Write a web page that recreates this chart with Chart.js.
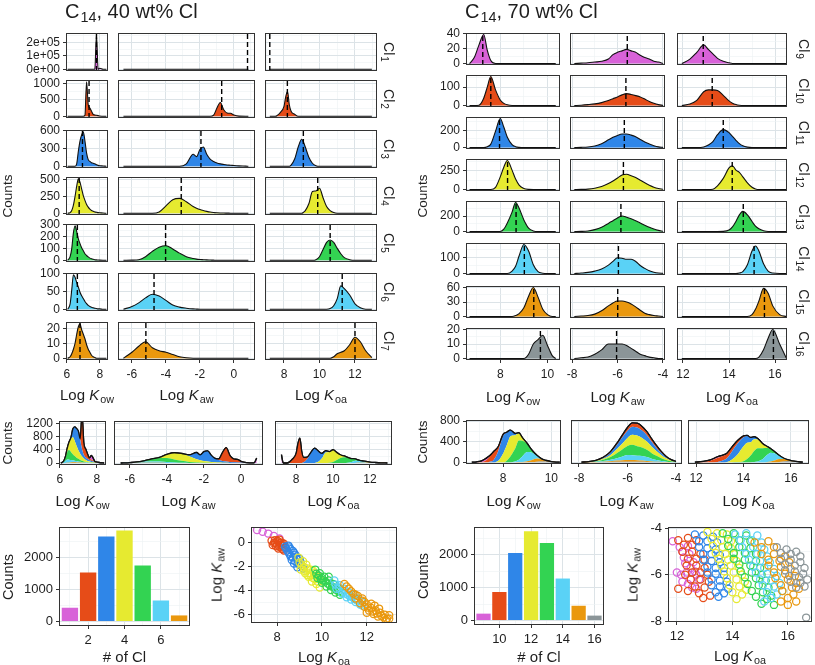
<!DOCTYPE html>
<html>
<head>
<meta charset="utf-8">
<script src="https://cdn.jsdelivr.net/npm/chart.js@4.4.1/dist/chart.umd.min.js"></script>
<style>
  body { margin: 0; background: #fff; }
  #fig { position: relative; width: 815px; height: 665px; overflow: hidden;
         font-family: "Liberation Sans", Arial, sans-serif; color: #1e1e1e; }
  #fig canvas { position: absolute; }
  .t { position: absolute; white-space: nowrap; line-height: 1; }
  .t sub { font-size: 72%; vertical-align: -0.3em; line-height: 0; margin-left: 1px; }
</style>
</head>
<body>
<div id="fig"></div>
<script>
// ---------- data ----------
const cl40 = [1, 2, 3, 4, 5, 6, 7];
const cl70 = [9, 10, 11, 12, 13, 14, 15, 16];
const clColors = ['#D862D8', '#E64C18', '#2F86E8', '#E6EA30', '#33D352', '#5AD2F6', '#EA980E', '#8B9598'];

// 40 wt% Cl, counts per Cl on a shared bin grid
const kow40X = [6.05, 6.2, 6.3, 6.4, 6.5, 6.6, 6.7, 6.8, 6.9, 7.0, 7.1, 7.2, 7.3, 7.4, 7.5, 7.6, 7.7, 7.8, 7.9, 8.0, 8.2, 8.4];
const kow40 = [
  [0, 0, 0, 0, 0, 0, 0, 0, 0, 0, 0, 0, 0, 0, 0, 0, 120, 80, 0, 0, 0, 0],
  [0, 0, 0, 0, 0, 0, 0, 0, 0, 0, 30, 1050, 350, 250, 150, 60, 40, 30, 20, 10, 0, 0],
  [0, 0, 0, 0, 0, 40, 250, 420, 520, 575, 420, 220, 110, 80, 60, 50, 40, 25, 15, 10, 5, 0],
  [0, 10, 40, 120, 250, 400, 510, 460, 360, 260, 190, 130, 90, 60, 40, 30, 20, 15, 10, 8, 3, 0],
  [0, 30, 100, 230, 290, 240, 180, 140, 105, 80, 55, 40, 28, 18, 12, 8, 5, 3, 2, 1, 0, 0],
  [0, 15, 55, 97, 90, 75, 62, 48, 38, 30, 22, 16, 11, 8, 6, 4, 3, 2, 1, 1, 0, 0],
  [0, 1, 3, 6, 10, 16, 21, 23, 19, 16, 13, 9, 6, 4, 2, 1, 0.5, 0, 0, 0, 0, 0]
];
const kow40Spike = [0, 0, 0, 0, 0, 0, 0, 0, 0, 0, 0, 0, 0, 0, 0, 0, 0, 256000, 0, 8000, 0, 0];

const kaw40X = [-6.5, -6.0, -5.6, -5.2, -4.8, -4.4, -4.0, -3.6, -3.2, -2.8, -2.4, -2.2, -2.0, -1.8, -1.6, -1.4, -1.2, -1.0, -0.8, -0.6, -0.4, -0.2, 0.0, 0.3, 0.7, 0.85];
const kaw40 = [
  [0, 0, 0, 0, 0, 0, 0, 0, 0, 0, 0, 0, 0, 0, 0, 0, 0, 0, 0, 0, 0, 0, 0, 0, 0, 150],
  [0, 0, 0, 0, 0, 0, 0, 0, 0, 0, 0, 0, 0, 0, 0, 0, 30, 250, 420, 200, 100, 90, 40, 5, 0, 0],
  [0, 0, 0, 0, 0, 0, 0, 0, 0, 40, 200, 160, 280, 320, 200, 120, 80, 55, 40, 30, 22, 18, 12, 6, 2, 0],
  [0, 0, 0, 0, 0, 20, 110, 200, 220, 170, 100, 75, 55, 40, 28, 18, 12, 8, 5, 3, 2, 1, 0, 0, 0, 0],
  [0, 1, 5, 30, 75, 110, 122, 95, 60, 30, 15, 10, 7, 5, 3, 2, 1, 0, 0, 0, 0, 0, 0, 0, 0, 0],
  [0, 8, 18, 32, 42, 37, 25, 12, 6, 3, 1, 0.5, 0, 0, 0, 0, 0, 0, 0, 0, 0, 0, 0, 0, 0, 0],
  [0, 4, 8, 11, 7, 5, 4, 2.5, 1, 0.3, 0, 0, 0, 0, 0, 0, 0, 0, 0, 0, 0, 0, 0, 0, 0, 0]
];

const koa40X = [7.2, 7.3, 7.5, 7.8, 8.0, 8.1, 8.2, 8.3, 8.4, 8.6, 8.8, 9.0, 9.1, 9.2, 9.4, 9.6, 9.8, 10.0, 10.2, 10.4, 10.6, 10.8, 11.0, 11.2, 11.4, 11.7, 12.0, 12.3, 12.6, 12.95];
const koa40 = [
  [250, 0, 0, 0, 0, 0, 0, 0, 0, 0, 0, 0, 0, 0, 0, 0, 0, 0, 0, 0, 0, 0, 0, 0, 0, 0, 0, 0, 0, 0],
  [0, 0, 0, 120, 300, 600, 750, 350, 150, 60, 0, 0, 0, 0, 0, 0, 0, 0, 0, 0, 0, 0, 0, 0, 0, 0, 0, 0, 0, 0],
  [0, 0, 0, 0, 0, 0, 0, 0, 20, 120, 320, 450, 400, 320, 150, 50, 10, 0, 0, 0, 0, 0, 0, 0, 0, 0, 0, 0, 0, 0],
  [0, 0, 0, 0, 0, 0, 0, 0, 0, 0, 0, 0, 15, 40, 140, 320, 330, 370, 230, 100, 40, 10, 0, 0, 0, 0, 0, 0, 0, 0],
  [0, 0, 0, 0, 0, 0, 0, 0, 0, 0, 0, 0, 0, 0, 0, 0, 5, 30, 90, 150, 170, 150, 100, 55, 22, 5, 0, 0, 0, 0],
  [0, 0, 0, 0, 0, 0, 0, 0, 0, 0, 0, 0, 0, 0, 0, 0, 0, 0, 0, 0, 2, 10, 30, 66, 58, 40, 15, 4, 0, 0],
  [0, 0, 0, 0, 0, 0, 0, 0, 0, 0, 0, 0, 0, 0, 0, 0, 0, 0, 0, 0, 0, 1, 3, 4, 5, 9, 14, 11, 5, 0.5]
];

const kow40Mean = [7.8, 7.35, 6.95, 6.75, 6.64, 6.64, 6.8];
const kaw40Mean = [0.8, -0.72, -1.94, -3.1, -4.02, -4.7, -5.18];
const koa40Mean = [7.2, 8.19, 9.09, 9.9, 10.6, 11.28, 12.0];

// 70 wt% Cl
const kow70X = [6.7, 6.9, 7.1, 7.3, 7.45, 7.6, 7.8, 8.0, 8.15, 8.3, 8.5, 8.65, 8.8, 9.0, 9.2, 9.4, 9.6, 9.8, 10.0, 10.2, 10.35];
const kow70 = [
  [0, 8, 25, 39, 18, 4, 0, 0, 0, 0, 0, 0, 0, 0, 0, 0, 0, 0, 0, 0, 0],
  [0, 0, 2, 40, 100, 158, 85, 30, 12, 4, 0, 0, 0, 0, 0, 0, 0, 0, 0, 0, 0],
  [0, 0, 0, 0, 10, 40, 190, 340, 240, 120, 35, 10, 2, 0, 0, 0, 0, 0, 0, 0, 0],
  [0, 0, 0, 0, 0, 0, 30, 170, 300, 390, 260, 140, 60, 15, 2, 0, 0, 0, 0, 0, 0],
  [0, 0, 0, 0, 0, 0, 0, 0, 30, 110, 250, 375, 300, 150, 45, 8, 0, 0, 0, 0, 0],
  [0, 0, 0, 0, 0, 0, 0, 0, 0, 0, 15, 45, 110, 180, 140, 55, 12, 2, 0, 0, 0],
  [0, 0, 0, 0, 0, 0, 0, 0, 0, 0, 0, 2, 6, 18, 42, 60, 40, 15, 4, 0, 0],
  [0, 0, 0, 0, 0, 0, 0, 0, 0, 0, 0, 0, 0, 0, 3, 10, 13, 16, 9, 2, 0]
];

const kaw70X = [-7.9, -7.6, -7.3, -7.0, -6.7, -6.4, -6.2, -6.0, -5.8, -5.6, -5.4, -5.2, -5.0, -4.8, -4.6, -4.4, -4.2, -4.0];
const kaw70 = [
  [0, 0.5, 1, 2, 3, 6, 12, 15, 17, 19, 17, 15, 11, 8, 6, 3, 2, 0],
  [0, 2, 5, 9, 16, 27, 37, 47, 58, 65, 60, 54, 47, 35, 22, 12, 5, 1],
  [0, 2, 6, 18, 45, 90, 120, 142, 158, 158, 145, 125, 95, 65, 42, 22, 8, 2],
  [0, 2, 6, 18, 40, 80, 115, 155, 195, 205, 185, 160, 125, 90, 58, 32, 15, 5],
  [0, 2, 8, 25, 55, 105, 140, 175, 200, 185, 165, 140, 110, 82, 55, 32, 15, 4],
  [0, 3, 7, 15, 28, 52, 75, 98, 95, 88, 88, 75, 50, 32, 17, 8, 3, 1],
  [0, 1, 2, 5, 12, 22, 28, 32, 32, 30, 26, 20, 13, 7, 4, 2, 1, 0],
  [0, 0.5, 1, 3, 6, 10, 10, 10, 10, 9, 7, 5, 3, 2, 1, 0.5, 0, 0]
];

const koa70X = [11.95, 12.3, 12.6, 12.9, 13.1, 13.3, 13.5, 13.75, 14.0, 14.15, 14.3, 14.45, 14.6, 14.8, 15.0, 15.15, 15.3, 15.5, 15.7, 15.9, 16.2, 16.5];
const koa70 = [
  [0, 6, 15, 25, 19, 13, 7, 3, 1, 0, 0, 0, 0, 0, 0, 0, 0, 0, 0, 0, 0, 0],
  [0, 8, 28, 75, 85, 85, 82, 55, 25, 13, 6, 2, 0, 0, 0, 0, 0, 0, 0, 0, 0, 0],
  [0, 0, 0, 6, 30, 70, 150, 210, 175, 130, 85, 45, 20, 5, 0, 0, 0, 0, 0, 0, 0, 0],
  [0, 0, 0, 0, 0, 5, 50, 150, 290, 320, 260, 230, 170, 90, 30, 8, 0, 0, 0, 0, 0, 0],
  [0, 0, 0, 0, 0, 0, 0, 2, 20, 60, 130, 215, 260, 215, 130, 70, 35, 10, 0, 0, 0, 0],
  [0, 0, 0, 0, 0, 0, 0, 0, 0, 0, 0, 3, 12, 55, 140, 170, 140, 60, 15, 3, 0, 0],
  [0, 0, 0, 0, 0, 0, 0, 0, 0, 0, 0, 0, 0, 0, 4, 15, 32, 58, 48, 22, 4, 0],
  [0, 0, 0, 0, 0, 0, 0, 0, 0, 0, 0, 0, 0, 0, 0, 0, 1, 6, 14, 20, 10, 0]
];

const kow70Mean = [7.26, 7.6, 7.97, 8.31, 8.67, 9.02, 9.42, 9.7];
const kaw70Mean = [-5.57, -5.63, -5.7, -5.74, -5.85, -5.96, -5.99, -6.04];
const koa70Mean = [12.88, 13.27, 13.75, 14.14, 14.62, 15.09, 15.54, 15.93];

// counts per number of Cl
const count40 = [430, 1530, 2656, 2844, 1750, 656, 190];
const count70 = [210, 870, 2060, 2720, 2360, 1280, 450, 150];

// Log Koa, Log Kaw pairs per Cl
const scat40 = [
  [[7.1, 1.0], [7.35, 0.85], [7.6, 0.7], [7.85, 0.5], [8.1, 0.3]],
  [[7.75, 0.1], [7.85, -0.1], [7.9, 0.15], [8.0, -0.2], [8.05, 0.05], [8.1, -0.4], [8.15, -0.1], [8.2, -0.55], [8.25, -0.3], [8.3, -0.7], [7.95, -0.35], [8.1, 0.2], [8.35, -0.5], [8.2, -0.05],
   [7.8, -0.25], [8.0, 0.1], [8.15, -0.25], [8.3, -0.15], [8.05, -0.55], [8.25, -0.6], [7.9, -0.05]],
  [[8.35, -0.4], [8.45, -0.7], [8.5, -0.3], [8.55, -1.0], [8.6, -0.6], [8.7, -1.3], [8.75, -0.9], [8.8, -1.6], [8.85, -1.2], [8.95, -1.8], [9.0, -1.4], [9.1, -2.0], [8.65, -1.5], [9.05, -1.7], [8.9, -2.1],
   [8.4, -0.55], [8.5, -0.85], [8.6, -1.2], [8.7, -0.75], [8.8, -1.05], [8.9, -1.45], [9.0, -1.9], [9.15, -2.2], [8.75, -1.8], [8.55, -0.45]],
  [[8.95, -1.3], [9.05, -2.3], [9.15, -1.6], [9.25, -2.6], [9.3, -1.9], [9.4, -2.9], [9.5, -2.3], [9.55, -3.3], [9.65, -2.6], [9.75, -3.5], [9.85, -2.9], [9.9, -3.8], [9.2, -2.1], [9.6, -3.0], [9.45, -2.6],
   [9.0, -1.7], [9.1, -1.95], [9.2, -2.4], [9.35, -2.2], [9.35, -2.75], [9.5, -2.8], [9.6, -2.4], [9.7, -3.1], [9.8, -3.3], [9.9, -3.1], [9.75, -2.8]],
  [[9.7, -2.3], [9.8, -3.0], [9.9, -2.6], [10.0, -3.4], [10.1, -2.9], [10.2, -3.7], [10.3, -3.2], [10.4, -4.0], [10.5, -3.5], [10.6, -4.2], [10.7, -3.8], [10.8, -4.4], [10.15, -3.3], [10.45, -3.7], [9.95, -3.1],
   [9.75, -2.65], [9.85, -2.8], [10.0, -3.0], [10.05, -3.2], [10.25, -3.45], [10.35, -3.6], [10.55, -3.8], [10.65, -4.0], [10.75, -4.1], [10.9, -4.2], [10.3, -2.9]],
  [[10.55, -3.2], [10.65, -3.9], [10.8, -3.6], [10.9, -4.3], [11.0, -3.9], [11.1, -4.6], [11.2, -4.2], [11.3, -4.8], [11.4, -4.4], [11.5, -5.0], [11.6, -4.7], [11.7, -5.2], [11.05, -4.3], [11.35, -4.6],
   [10.6, -3.55], [10.75, -3.8], [10.95, -4.05], [11.15, -4.4], [11.25, -4.5], [11.45, -4.75], [11.55, -4.85], [11.75, -4.95], [11.8, -5.3]],
  [[11.0, -3.5], [11.2, -3.9], [11.4, -4.3], [11.6, -4.5], [11.8, -4.9], [11.9, -5.4], [12.0, -5.2], [12.1, -5.7], [12.2, -5.5], [12.3, -6.0], [12.4, -5.7], [12.5, -6.2], [12.6, -5.9], [12.75, -6.3], [12.9, -6.4], [13.0, -6.1], [12.35, -5.3], [11.7, -5.1], [12.0, -5.9],
   [11.1, -3.7], [11.3, -4.1], [11.5, -4.4], [11.5, -4.7], [11.9, -5.0], [12.05, -5.45], [12.25, -5.8], [12.45, -5.95], [12.55, -5.55], [12.65, -6.15], [12.8, -6.05], [12.85, -6.5], [13.0, -6.4], [12.2, -5.15], [11.8, -4.7]]
];
const scat70 = [
  [[11.85, -4.55], [12.2, -5.0], [12.45, -5.1], [12.3, -5.5], [12.6, -5.45], [12.35, -5.9], [12.65, -5.85], [12.5, -6.2], [12.8, -6.2], [12.55, -6.55], [12.2, -6.3],
   [12.1, -4.8], [12.4, -4.75], [12.25, -5.25], [12.5, -5.7], [12.7, -6.0], [12.4, -6.4], [12.7, -6.6], [12.0, -5.9], [12.15, -6.0]],
  [[12.05, -4.5], [12.4, -4.4], [12.7, -4.5], [12.2, -5.0], [12.55, -5.0], [12.85, -5.1], [12.35, -5.6], [12.7, -5.6], [13.0, -5.7], [12.5, -6.2], [12.85, -6.2], [13.15, -6.3], [12.8, -6.8], [13.2, -6.9], [12.05, -6.6],
   [12.25, -4.7], [12.55, -4.7], [12.4, -5.3], [12.7, -5.3], [13.0, -5.35], [12.55, -5.9], [12.85, -5.9], [13.1, -6.0], [12.65, -6.5], [13.0, -6.55], [12.95, -7.0], [12.3, -6.0], [12.4, -6.7]],
  [[12.65, -4.25], [12.95, -4.3], [13.3, -4.35], [12.8, -4.8], [13.1, -4.85], [13.4, -4.9], [12.95, -5.35], [13.25, -5.4], [13.55, -5.45], [13.1, -5.9], [13.4, -5.95], [13.7, -6.0], [13.25, -6.45], [13.55, -6.5], [13.85, -6.6], [13.5, -6.95],
   [12.8, -4.55], [13.1, -4.55], [13.45, -4.6], [12.95, -5.1], [13.25, -5.1], [13.55, -5.15], [13.1, -5.65], [13.4, -5.7], [13.7, -5.7], [13.25, -6.2], [13.55, -6.25], [13.8, -6.3], [13.4, -6.75], [13.7, -6.8]],
  [[13.1, -4.15], [13.45, -4.2], [13.8, -4.25], [13.3, -4.75], [13.65, -4.8], [13.95, -4.85], [13.5, -5.3], [13.85, -5.35], [14.15, -5.4], [13.7, -5.85], [14.05, -5.9], [14.35, -6.0], [13.9, -6.45], [14.25, -6.5], [14.5, -6.65], [14.15, -7.05],
   [13.25, -4.45], [13.6, -4.5], [13.95, -4.55], [13.4, -5.05], [13.75, -5.1], [14.05, -5.1], [13.6, -5.6], [13.95, -5.6], [14.25, -5.7], [13.8, -6.15], [14.15, -6.2], [14.45, -6.3], [14.0, -6.75], [14.35, -6.85]],
  [[13.65, -4.2], [14.05, -4.2], [14.5, -4.3], [13.85, -4.75], [14.25, -4.8], [14.65, -4.85], [14.05, -5.3], [14.45, -5.35], [14.85, -5.4], [14.3, -5.85], [14.7, -5.9], [15.05, -6.0], [14.55, -6.4], [14.95, -6.45], [15.3, -6.55], [14.85, -6.95], [15.25, -7.05], [15.5, -7.3],
   [13.85, -4.45], [14.25, -4.5], [14.65, -4.55], [14.05, -5.05], [14.45, -5.05], [14.85, -5.1], [14.25, -5.55], [14.65, -5.6], [15.0, -5.7], [14.45, -6.1], [14.85, -6.15], [15.2, -6.25], [14.7, -6.7], [15.1, -6.75], [15.4, -6.9], [15.05, -7.25]],
  [[14.1, -4.25], [14.5, -4.2], [14.9, -4.3], [14.35, -4.8], [14.75, -4.8], [15.15, -4.9], [14.6, -5.35], [15.0, -5.4], [15.35, -5.45], [14.85, -5.9], [15.25, -5.95], [15.6, -6.05], [15.1, -6.45], [15.5, -6.5], [15.8, -6.7], [15.4, -7.0],
   [14.3, -4.5], [14.7, -4.5], [15.05, -4.6], [14.5, -5.1], [14.9, -5.1], [15.25, -5.2], [14.75, -5.65], [15.15, -5.7], [15.5, -5.75], [15.0, -6.2], [15.4, -6.25], [15.7, -6.35], [15.25, -6.75], [15.6, -6.85], [15.15, -7.15]],
  [[14.8, -4.6], [15.3, -4.55], [15.05, -5.1], [15.5, -5.1], [15.9, -5.2], [15.3, -5.6], [15.75, -5.65], [16.1, -5.75], [15.55, -6.15], [16.0, -6.2], [16.3, -6.35], [15.8, -6.7], [16.2, -6.85], [16.0, -7.3],
   [15.05, -4.8], [15.5, -4.8], [15.3, -5.35], [15.7, -5.4], [16.05, -5.45], [15.5, -5.9], [15.9, -5.95], [16.25, -6.05], [15.75, -6.45], [16.15, -6.55], [16.4, -6.6], [16.0, -7.0], [16.3, -7.15], [15.75, -7.15]],
  [[15.6, -4.8], [15.95, -4.9], [16.3, -5.0], [15.75, -5.3], [16.1, -5.35], [16.45, -5.45], [15.9, -5.8], [16.25, -5.85], [16.55, -5.95], [16.1, -6.3], [16.45, -6.35], [16.66, -7.85],
   [15.75, -5.05], [16.1, -5.1], [16.45, -5.2], [15.9, -5.55], [16.25, -5.6], [16.6, -5.7], [16.05, -6.05], [16.4, -6.1], [16.7, -6.2], [16.3, -6.55], [16.6, -6.5]]
];

// tick labels
const kowTicks40 = [6, 8], kawTicks40 = [-6, -4, -2, 0], koaTicks40 = [8, 10, 12];
const kowTicks70 = [8, 10], kawTicks70 = [-8, -6, -4], koaTicks70 = [12, 14, 16];
const yTicks40 = [[0, 1e5, 2e5], [0, 500, 1000], [0, 300, 600], [0, 250, 500], [0, 100, 200, 300], [0, 50, 100], [0, 10, 20]];
const yTicks70 = [[0, 20, 40], [0, 100], [0, 200], [0, 250], [0, 200], [0, 100], [0, 30, 60], [0, 10, 20]];
const stackTicks40 = [0, 400, 800, 1200], stackTicks70 = [0, 400, 800];
const barTicks = [0, 1000, 2000];
const clTicks40 = [2, 4, 6], clTicks70 = [10, 12, 14, 16];
const scatX40 = [8, 10, 12], scatY40 = [-6, -4, -2, 0];
const scatX70 = [12, 14, 16], scatY70 = [-8, -6, -4];

// ---------- drawing ----------
Chart.defaults.font.family = '"Liberation Sans", Arial, sans-serif';
const fig = document.getElementById('fig');
const INK = '#1e1e1e', MAJ = '#DCE3E7', MIN = '#EDF1F3', FRAME = '#333';
const YW = 46, XH = 22, PX = 14, PY = 9;

function isMaj(labels, v) { return labels.some(l => Math.abs(l - v) < 1e-9); }
function gridVals(r, labels) {
  const half = (labels[1] - labels[0]) / 2, out = [];
  let v = labels[0];
  while (v - half >= r[0]) v -= half;
  for (; v <= r[1] + 1e-9; v += half) out.push(Math.round(v * 1e6) / 1e6);
  return out;
}
function sci(v) {
  const p = v.toExponential(0).split('e'), n = parseInt(p[1], 10);
  return p[0] + 'e' + (n < 0 ? '-' : '+') + String(Math.abs(n)).padStart(2, '0');
}
function axis(r, labels, show, horiz, size, fmt) {
  const vals = gridVals(r, labels);
  const maj = c => c.tick && isMaj(labels, c.tick.value);
  return {
    type: 'linear', min: r[0], max: r[1], offset: false,
    afterBuildTicks: s => { s.ticks = vals.map(v => ({ value: v })); },
    afterFit: s => {
      if (horiz) { s.height = show ? XH : 0; s.paddingLeft = 0; s.paddingRight = 0; }
      else { s.width = show ? YW : 0; s.paddingTop = 0; s.paddingBottom = 0; }
    },
    border: { display: false },
    grid: {
      offset: false,
      color: c => maj(c) ? MAJ : MIN,
      lineWidth: c => maj(c) ? 1 : 0.6,
      drawTicks: show, tickLength: 3, tickWidth: 1,
      tickColor: c => maj(c) ? FRAME : 'rgba(0,0,0,0)'
    },
    ticks: {
      display: show, autoSkip: false, maxRotation: 0, padding: horiz ? 4 : 3,
      color: INK, font: { size: size },
      callback: v => isMaj(labels, v) ? (fmt ? fmt(v) : String(v)) : ''
    }
  };
}

const frame = {
  id: 'frame',
  afterDraw(ch) {
    const a = ch.chartArea, c = ch.ctx;
    c.save(); c.strokeStyle = FRAME; c.lineWidth = 1;
    c.strokeRect(a.left + 0.5, a.top + 0.5, a.right - a.left - 1, a.bottom - a.top - 1);
    c.restore();
  }
};
function meanLine(v) {
  return {
    id: 'mean',
    afterDatasetsDraw(ch) {
      const a = ch.chartArea, c = ch.ctx, px = ch.scales.x.getPixelForValue(v);
      c.save(); c.setLineDash([5, 3]); c.strokeStyle = '#000'; c.lineWidth = 1.4;
      c.beginPath(); c.moveTo(px, a.bottom); c.lineTo(px, a.top); c.stroke();
      c.restore();
    }
  };
}
const topLine = {
  id: 'topLine',
  afterDatasetsDraw(ch) {
    const m = ch.getDatasetMeta(ch.data.datasets.length - 1), a = ch.chartArea, c = ch.ctx;
    c.save(); c.beginPath(); c.rect(a.left, a.top, a.right - a.left, a.bottom - a.top); c.clip();
    m.dataset.draw(c, a);
    c.restore();
  }
};

function place(box, showX, showY, cfg) {
  const [l, t, r, b] = box;
  const yw = showY ? YW : 0, xh = showX ? XH : 0;
  const w = r - l + yw + 2 * PX, h = b - t + xh + 2 * PY;
  const cv = document.createElement('canvas');
  cv.width = w; cv.height = h;
  Object.assign(cv.style, { left: (l - yw - PX) + 'px', top: (t - PY) + 'px', width: w + 'px', height: h + 'px' });
  fig.appendChild(cv);
  cfg.options = Object.assign({
    responsive: false, animation: false, devicePixelRatio: 1, events: [],
    layout: { padding: { left: PX, right: PX, top: PY, bottom: PY } },
    plugins: { legend: { display: false }, tooltip: { enabled: false } }
  }, cfg.options);
  cfg.plugins = [frame].concat(cfg.plugins || []);
  return new Chart(cv, cfg);
}

function xy(xs, ys) { return xs.map((x, i) => ({ x: x, y: ys[i] })); }

function facetBlock(b) {
  b.tops.forEach((top, i) => {
    const rowData = b.vals.map((v, j) => (b.spike && i === 0 && j === 0) ? b.spike : v[i]);
    const M = Math.max(...rowData.map(d => Math.max(...d)));
    const yr = [-0.05 * M, 1.05 * M];
    const last = i === b.tops.length - 1;
    b.cols.forEach((col, j) => {
      place([col[0], top, col[1], top + b.h], last, j === 0, {
        type: 'line',
        data: { datasets: [{
          data: xy(b.xs[j], rowData[j]), fill: 'origin', backgroundColor: clColors[i],
          borderColor: '#111', borderWidth: 1.1, pointRadius: 0, cubicInterpolationMode: 'monotone'
        }] },
        options: { scales: {
          x: axis(b.xr[j], b.xl[j], last, true, 12),
          y: axis(yr, b.yl[i], j === 0, false, 12, M > 1e4 ? sci : null)
        } },
        plugins: [meanLine(b.means[j][i])]
      });
    });
  });
}

function stackPanel(box, xs, groups, xr, xl, yr, yl, showY) {
  const ds = [];
  for (let g = groups.length - 1; g >= 0; g--) {
    ds.push({
      data: xy(xs, groups[g]), fill: ds.length ? '-1' : 'origin', backgroundColor: clColors[g],
      borderColor: g === 0 ? '#111' : 'rgba(0,0,0,0)', borderWidth: g === 0 ? 1.3 : 1,
      pointRadius: 0, cubicInterpolationMode: 'monotone'
    });
  }
  const y = axis(yr, yl, showY, false, 12);
  y.stacked = true;
  place(box, true, showY, {
    type: 'line', data: { datasets: ds },
    options: { scales: { x: axis(xr, xl, true, true, 12), y: y } },
    plugins: [topLine]
  });
}

function barPanel(box, cls, counts, xr, xl, yr) {
  place(box, true, true, {
    type: 'bar',
    data: { datasets: [{ data: xy(cls, counts), backgroundColor: clColors.slice(0, cls.length), barPercentage: 0.9, categoryPercentage: 1 }] },
    options: { scales: { x: axis(xr, xl, true, true, 13), y: axis(yr, barTicks, true, false, 13) } }
  });
}

function scatterPanel(box, groups, xr, xl, yr, yl) {
  place(box, true, true, {
    type: 'scatter',
    data: { datasets: groups.map((pts, g) => ({
      data: pts.map(p => ({ x: p[0], y: p[1] })), pointRadius: 3.6, pointBorderWidth: 1.25,
      pointBackgroundColor: 'rgba(0,0,0,0)', pointBorderColor: clColors[g], order: -g
    })) },
    options: { scales: { x: axis(xr, xl, true, true, 13), y: axis(yr, yl, true, false, 13) } }
  });
}

function text(html, x, y, size, rot) {
  const d = document.createElement('div');
  d.className = 't'; d.innerHTML = html; d.style.fontSize = size + 'px';
  d.style.left = x + 'px'; d.style.top = y + 'px';
  d.style.transform = 'translate(-50%,-50%)' + (rot ? ' rotate(' + rot + 'deg)' : '');
  fig.appendChild(d);
}
function title(html, x) {
  const d = document.createElement('div');
  d.className = 't'; d.innerHTML = html;
  Object.assign(d.style, { left: x + 'px', top: '1px', fontSize: '20px' });
  fig.appendChild(d);
}

// ---------- layout ----------
facetBlock({
  cols: [[66, 108], [118, 255], [265, 377]], tops: [33, 80, 130, 177, 224, 273, 322], h: 38,
  xs: [kow40X, kaw40X, koa40X], vals: [kow40, kaw40, koa40], spike: kow40Spike,
  means: [kow40Mean, kaw40Mean, koa40Mean],
  xr: [[5.95, 8.5], [-6.82, 1.24], [6.93, 13.24]], xl: [kowTicks40, kawTicks40, koaTicks40], yl: yTicks40
});
facetBlock({
  cols: [[466, 560], [570, 665], [677, 787]], tops: [33, 75, 117, 159, 201, 243, 286, 328], h: 32,
  xs: [kow70X, kaw70X, koa70X], vals: [kow70, kaw70, koa70],
  means: [kow70Mean, kaw70Mean, koa70Mean],
  xr: [[6.55, 10.53], [-8.09, -3.91], [11.74, 16.52]], xl: [kowTicks70, kawTicks70, koaTicks70], yl: yTicks70
});

stackPanel([59, 421, 106, 465], kow40X, kow40, [5.95, 8.5], kowTicks40, [-60, 1266], stackTicks40, true);
stackPanel([114, 421, 263, 465], kaw40X, kaw40, [-6.86, 1.19], kawTicks40, [-60, 1266], stackTicks40, false);
stackPanel([275, 421, 392, 465], koa40X, koa40, [6.85, 13.2], koaTicks40, [-60, 1266], stackTicks40, false);
stackPanel([466, 420, 561, 464], kow70X, kow70, [6.46, 10.4], kowTicks70, [-35, 820], stackTicks70, true);
stackPanel([571, 420, 682, 464], kaw70X, kaw70, [-8.33, -3.75], kawTicks70, [-35, 820], stackTicks70, false);
stackPanel([688, 420, 809, 464], koa70X, koa70, [11.66, 16.76], koaTicks70, [-35, 820], stackTicks70, false);

barPanel([59, 527, 190, 626], cl40, count40, [0.4, 7.6], clTicks40, [-140, 2950]);
barPanel([474, 527, 604, 625], cl70, count70, [8.4, 16.6], clTicks70, [-136, 2850]);
scatterPanel([251, 527, 397, 623], scat40, [6.83, 13.35], scatX40, [-6.75, 1.25], scatY40);
scatterPanel([668, 527, 812, 622], scat70, [11.68, 16.87], scatX70, [-8.04, -3.93], scatY70);

// ---------- text ----------
title('C<sub>14</sub>, 40 wt% Cl', 65);
title('C<sub>14</sub>, 70 wt% Cl', 465);

[33, 80, 130, 177, 224, 273, 322].forEach((t, i) => text('Cl<sub>' + cl40[i] + '</sub>', 389, t + 19, 14, 90));
[33, 75, 117, 159, 201, 243, 286, 328].forEach((t, i) => text('Cl<sub>' + cl70[i] + '</sub>', 804, t + 16, 14, 90));

const kow = 'Log <i>K</i><sub>ow</sub>', kaw = 'Log <i>K</i><sub>aw</sub>', koa = 'Log <i>K</i><sub>oa</sub>';
text(kow, 87, 394, 15); text(kaw, 186.5, 394, 15); text(koa, 321, 394, 15);
text(kow, 513, 396, 15); text(kaw, 617.5, 396, 15); text(koa, 732, 396, 15);
text(kow, 82.5, 500, 15); text(kaw, 188.5, 500, 15); text(koa, 333.5, 500, 15);
text(kow, 513.5, 500, 15); text(kaw, 626.5, 500, 15); text(koa, 748.5, 500, 15);

text('Counts', 8, 196, 13.5, -90); text('Counts', 423, 196, 13.5, -90);
text('Counts', 8, 443, 13.5, -90); text('Counts', 423, 442, 13.5, -90);
text('Counts', 8, 577, 14.5, -90); text('Counts', 423, 576, 14.5, -90);

text('# of Cl', 124.5, 656, 15); text('# of Cl', 539, 656, 15);
text(koa, 324, 656, 15); text(koa, 740, 655, 15);
text(kaw, 216, 575, 15, -90); text(kaw, 632, 575, 15, -90);
</script>
</body>
</html>
